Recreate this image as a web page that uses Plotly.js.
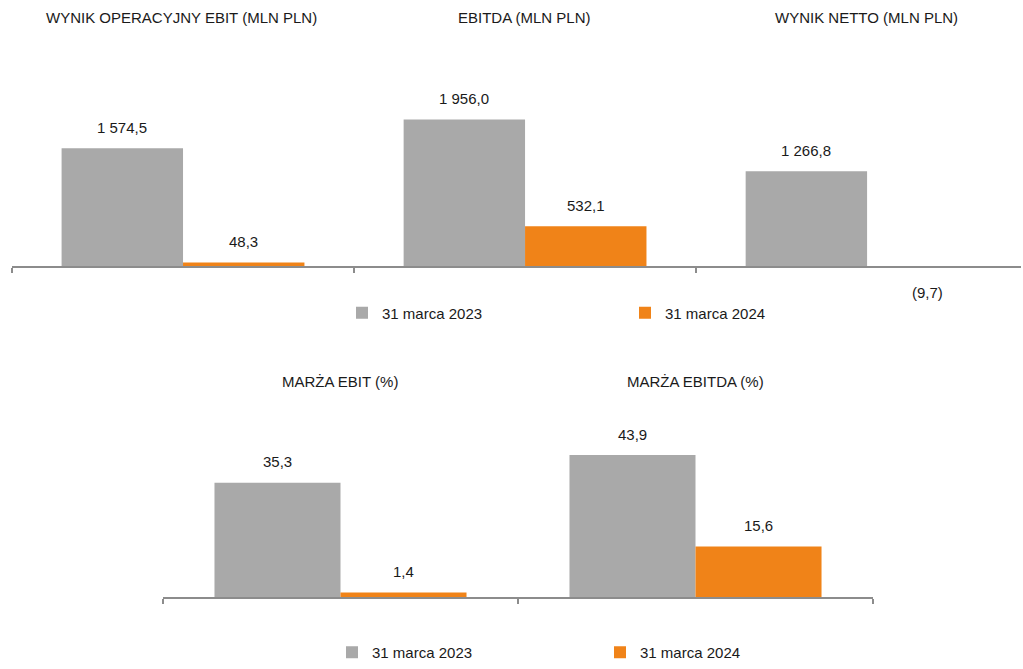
<!DOCTYPE html>
<html>
<head>
<meta charset="utf-8">
<script src="https://cdn.plot.ly/plotly-3.0.1.min.js"></script>
<style>html,body{margin:0;padding:0;background:#fff}#chart{width:1023px;height:669px}</style>
</head>
<body>
<div id="chart"></div>
<script>
// Top chart: results (mln PLN)
const topCategories = ["WYNIK OPERACYJNY EBIT (MLN PLN)", "EBITDA (MLN PLN)", "WYNIK NETTO (MLN PLN)"];
const topValues2023 = [1574.5, 1956.0, 1266.8];
const topValues2024 = [48.3, 532.1, -9.7];

// Bottom chart: margins (%)
const bottomCategories = ["MARŻA EBIT (%)", "MARŻA EBITDA (%)"];
const bottomValues2023 = [35.3, 43.9];
const bottomValues2024 = [1.4, 15.6];

const seriesNames = ["31 marca 2023", "31 marca 2024"];

const GRAY = "#A9A9A9";
const ORANGE = "#F08318";
const FONT = "'Liberation Sans', Arial, sans-serif";
const FS = 15;
const BARGAP = 0.29;

function fmt(v) {
  const neg = v < 0;
  const s = Math.abs(v).toFixed(1).split(".");
  const intPart = s[0].replace(/\B(?=(\d{3})+(?!\d))/g, " ");
  const out = intPart + "," + s[1];
  return neg ? "(" + out + ")" : out;
}

function barTrace(cats, vals, name, color, xa, ya, legend) {
  return {
    type: "bar", x: cats, y: vals, name: name,
    xaxis: xa, yaxis: ya, legend: legend, showlegend: true,
    marker: {color: color, line: {width: 0}},
    hoverinfo: "skip"
  };
}

const data = [
  barTrace(topCategories, topValues2023, seriesNames[0], GRAY, "x", "y", "legend"),
  barTrace(topCategories, topValues2024, seriesNames[1], ORANGE, "x", "y", "legend"),
  barTrace(bottomCategories, bottomValues2023, seriesNames[0], GRAY, "x2", "y2", "legend2"),
  barTrace(bottomCategories, bottomValues2024, seriesNames[1], ORANGE, "x2", "y2", "legend2")
];

// value labels, placed on the bars through the axes (grouped offsets of 2 traces)
const half = (1 - BARGAP) / 4;
function labels(vals, offset, xa, ya) {
  return vals.map((v, i) => ({
    text: fmt(v), x: i + offset, y: v, xref: xa, yref: ya,
    xanchor: "center", yanchor: "middle", showarrow: false,
    yshift: v >= 0 ? 21 : -26,
    font: {family: FONT, size: FS, color: "#1a1a1a"}
  }));
}

const W = 1023, H = 669;
const py = p => 1 - p / H;
const px = p => p / W;

const titleAnn = (text, x, y) => ({
  text: text, x: px(x), y: py(y), xref: "paper", yref: "paper",
  xanchor: "center", yanchor: "middle", showarrow: false,
  font: {family: FONT, size: FS, color: "#1a1a1a"}
});

const axisStyle = {
  anchor: "free", showline: true, linecolor: "#8c8c8c", linewidth: 1.5,
  ticks: "outside", ticklen: 5, tickcolor: "#8c8c8c", tickwidth: 1.5,
  tickson: "boundaries", showticklabels: false, showgrid: false, zeroline: false, fixedrange: true
};

const layout = {
  width: W, height: H,
  margin: {l: 0, r: 0, t: 0, b: 0},
  paper_bgcolor: "#fff", plot_bgcolor: "rgba(0,0,0,0)",
  font: {family: FONT, size: FS, color: "#1a1a1a"},
  barmode: "group", bargap: BARGAP, bargroupgap: 0,
  xaxis: Object.assign({domain: [px(12), px(1021)], range: [-0.5, 2.45], position: py(266)}, axisStyle),
  yaxis: {
    domain: [py(280), py(60)], range: [-14 * 13.36, 206 * 13.36],
    visible: false, showgrid: false, zeroline: false, fixedrange: true
  },
  xaxis2: Object.assign({domain: [px(163), px(873)], range: [-0.5, 1.5], position: py(597)}, axisStyle),
  yaxis2: {
    domain: [py(610), py(400)], range: [-13 * 0.3093, 197 * 0.3093],
    visible: false, showgrid: false, zeroline: false, fixedrange: true
  },
  legend: {
    orientation: "h", x: px(342), y: py(313), xanchor: "left", yanchor: "middle",
    entrywidth: 238, entrywidthmode: "pixels",
    font: {family: FONT, size: FS, color: "#1a1a1a"}, bgcolor: "rgba(0,0,0,0)"
  },
  legend2: {
    orientation: "h", x: px(332), y: 0, xanchor: "left", yanchor: "bottom",
    entrywidth: 223, entrywidthmode: "pixels",
    font: {family: FONT, size: FS, color: "#1a1a1a"}, bgcolor: "rgba(0,0,0,0)"
  },
  annotations: [
    titleAnn(topCategories[0], 181, 18),
    titleAnn(topCategories[1], 524, 18),
    titleAnn(topCategories[2], 866, 18),
    titleAnn(bottomCategories[0], 340, 381),
    titleAnn(bottomCategories[1], 695, 381)
  ].concat(
    labels(topValues2023, -half, "x", "y"),
    labels(topValues2024, half, "x", "y"),
    labels(bottomValues2023, -half, "x2", "y2"),
    labels(bottomValues2024, half, "x2", "y2")
  )
};

Plotly.newPlot("chart", data, layout, {displayModeBar: false, staticPlot: true});
</script>
</body>
</html>
